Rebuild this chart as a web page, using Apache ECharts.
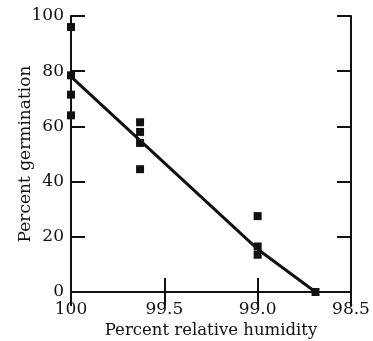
<!DOCTYPE html>
<html><head><meta charset="utf-8">
<script src="https://cdn.jsdelivr.net/npm/echarts@6/dist/echarts.min.js"></script>
<style>html,body{margin:0;padding:0;background:#fff}#c{width:373px;height:341px}</style>
</head><body><div id="c"></div>
<script>
// Data
var humidity = [100, 100, 100, 100, 99.63, 99.63, 99.63, 99.63, 99.0, 99.0, 99.0, 98.69];
var germination = [96, 78.5, 71.5, 64, 61.5, 58, 54, 44.5, 27.5, 16.5, 13.5, 0];
var fitHumidity = [100, 99.0, 98.69];
var fitGermination = [78, 15.5, 0];
var xTicks = {"100": "100", "99.5": "99.5", "99": "99.0", "98.5": "98.5"};

var pts = humidity.map(function (h, i) { return [h, germination[i]]; });
var fit = fitHumidity.map(function (h, i) { return [h, fitGermination[i]]; });

var font = 'DejaVu Serif';
var lineStyle = { color: '#111', width: 2 };
var chart = echarts.init(document.getElementById('c'));
chart.setOption({
  animation: false,
  backgroundColor: '#fff',
  grid: { left: 71, right: 22, top: 16, bottom: 49, outerBoundsMode: 'none', containLabel: false },
  xAxis: [{
    type: 'value', min: 98.5, max: 100, interval: 0.5, inverse: true,
    name: 'Percent relative humidity', nameLocation: 'middle', nameGap: 30, nameMoveOverlap: false,
    nameTextStyle: { fontFamily: font, fontSize: 16.5, color: '#111' },
    axisLine: { lineStyle: lineStyle },
    axisTick: { inside: true, length: 14, lineStyle: lineStyle },
    axisLabel: { fontFamily: font, fontSize: 17, color: '#111', margin: 9,
      formatter: function (v) { return xTicks[String(v)] || String(v); } },
    splitLine: { show: false }
  }, {
    type: 'value', position: 'top', min: 98.5, max: 100, interval: 0.5, inverse: true,
    axisLine: { show: true, lineStyle: lineStyle },
    axisTick: { inside: true, length: 14, lineStyle: lineStyle },
    axisLabel: { show: false }, splitLine: { show: false }
  }],
  yAxis: [{
    type: 'value', min: 0, max: 100, interval: 20,
    name: 'Percent germination', nameLocation: 'middle', nameGap: 37, nameMoveOverlap: false,
    nameTextStyle: { fontFamily: font, fontSize: 17, color: '#111' },
    axisLine: { show: true, lineStyle: lineStyle },
    axisTick: { show: true, inside: true, length: 14, lineStyle: lineStyle },
    axisLabel: { fontFamily: font, fontSize: 17, color: '#111', margin: 7 },
    splitLine: { show: false }
  }, {
    type: 'value', position: 'right', min: 0, max: 100, interval: 20,
    axisLine: { show: true, lineStyle: lineStyle },
    axisTick: { show: true, inside: true, length: 14, lineStyle: lineStyle },
    axisLabel: { show: false }, splitLine: { show: false }
  }],
  series: [{
    type: 'line', data: fit, symbol: 'none',
    lineStyle: { color: '#111', width: 3 }, z: 2
  }, {
    type: 'scatter', data: pts, symbol: 'rect', symbolSize: 8,
    itemStyle: { color: '#111', opacity: 1 }, z: 3
  }]
});
</script></body></html>
